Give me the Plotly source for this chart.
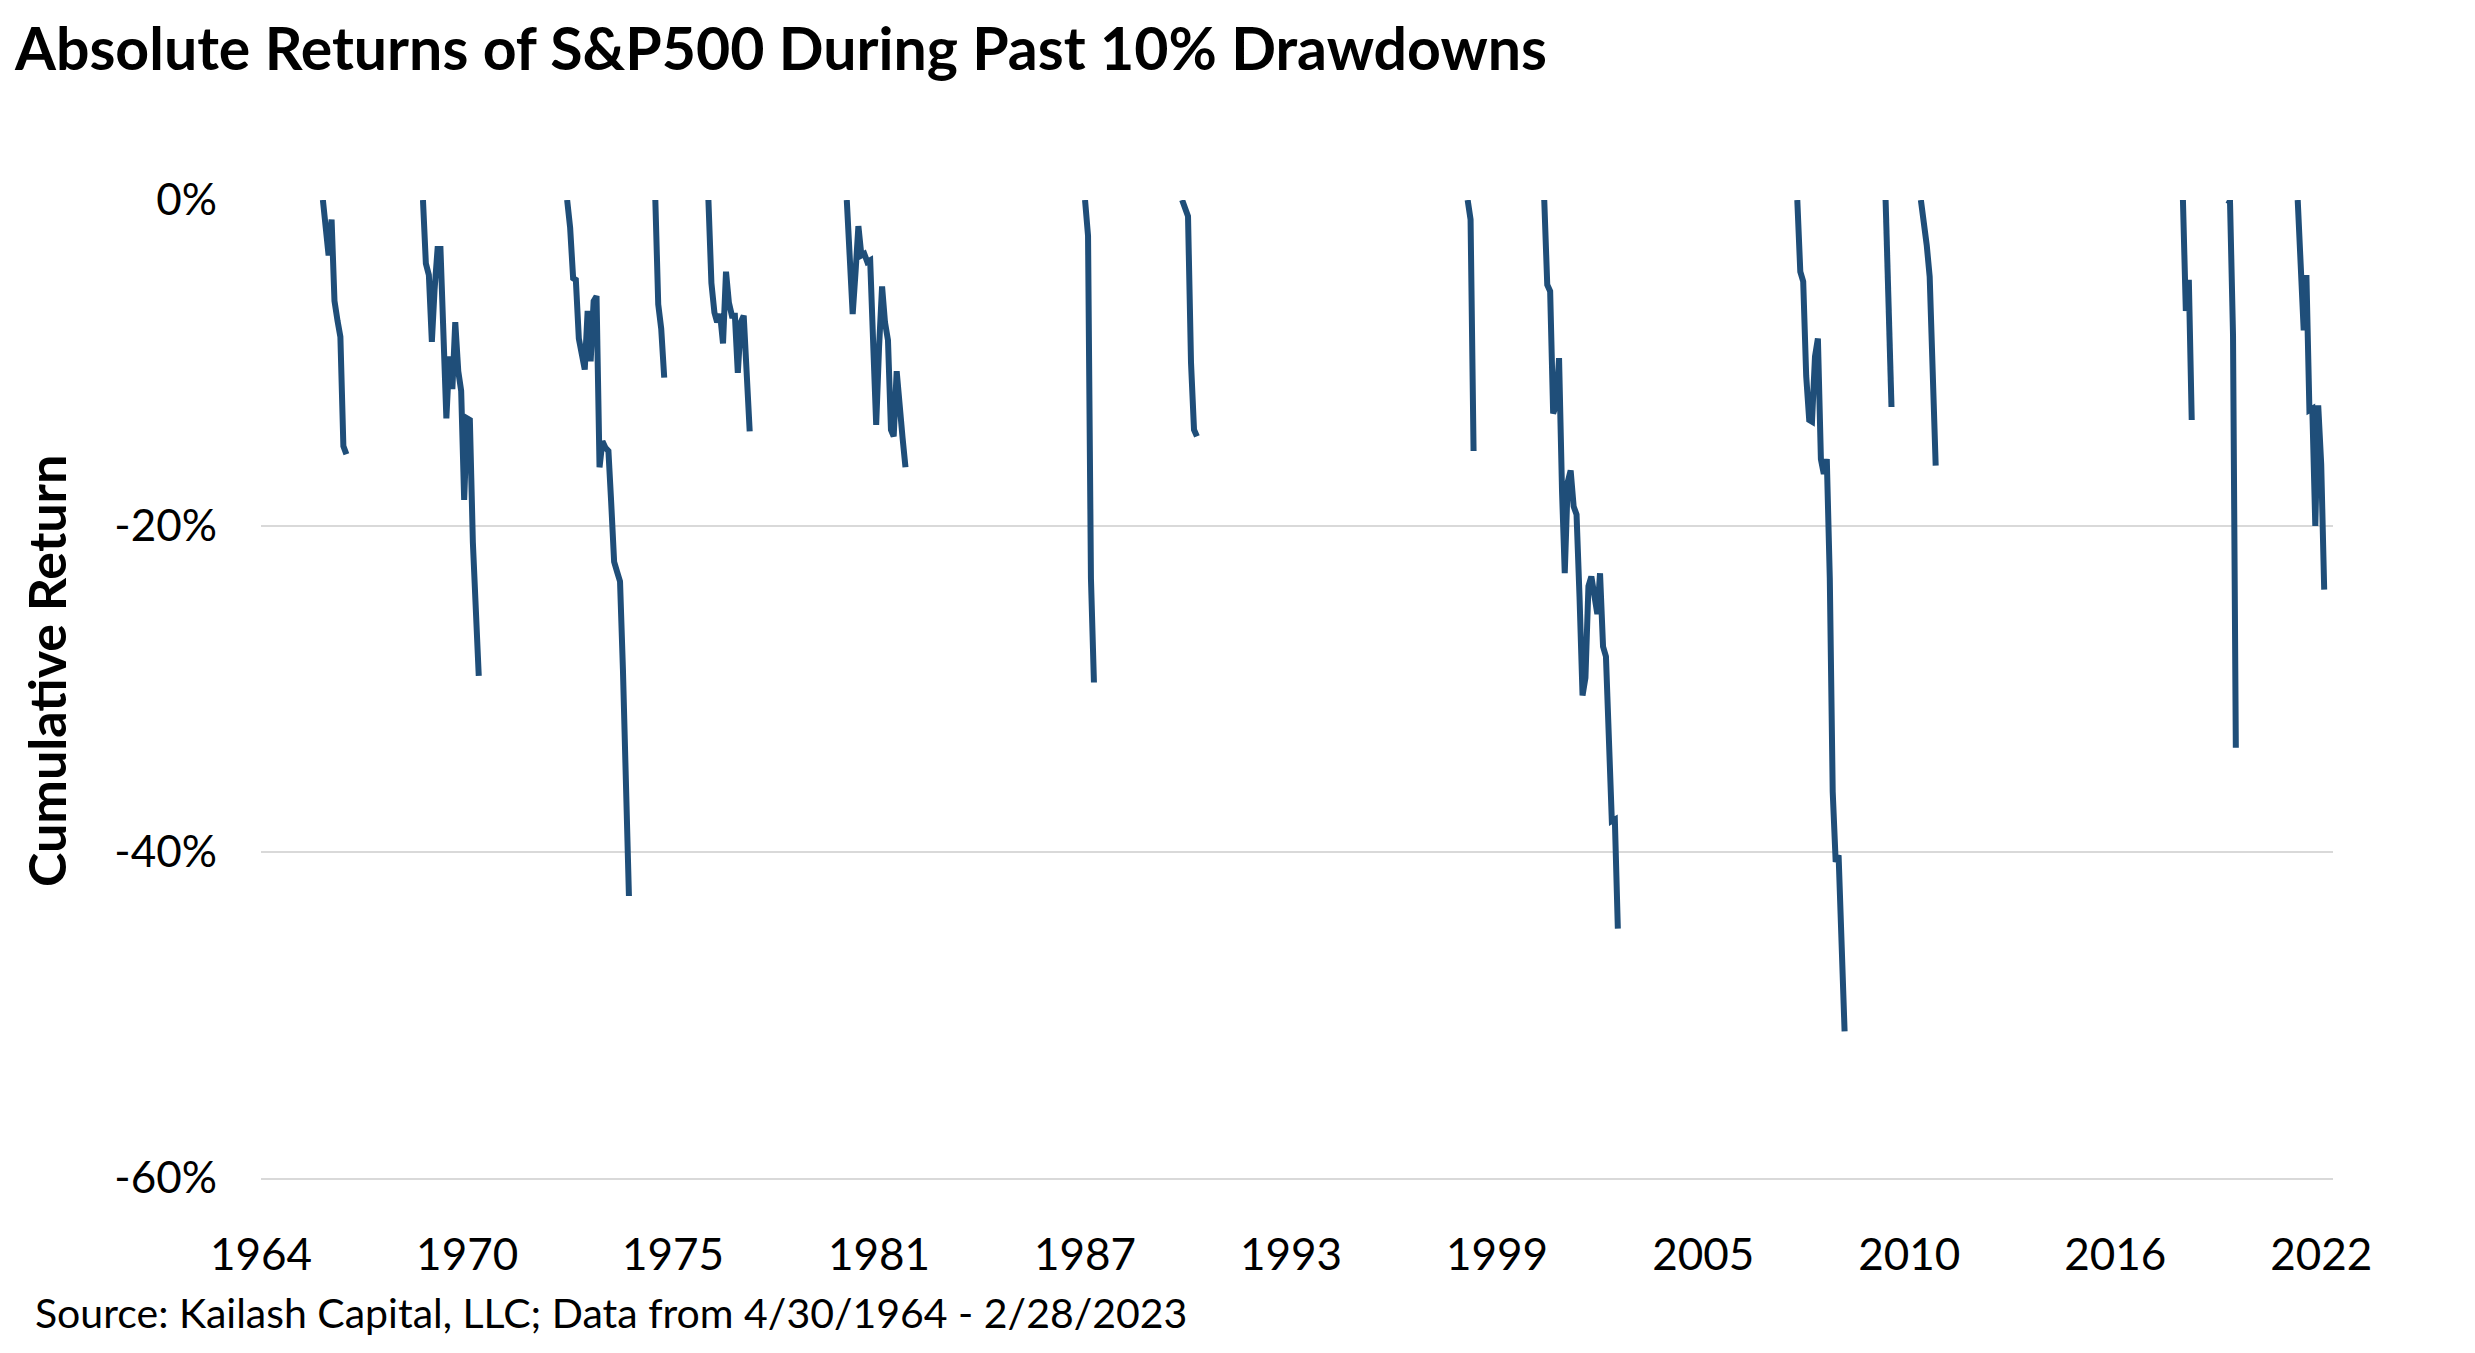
import pandas as pd
import plotly.graph_objects as go

# ---- Data: cumulative return (%) during each past 10% drawdown (monthly) ----
episode_starts = ["1966-01-01", "1968-11-01", "1972-12-01", "1975-06-01", "1976-12-01",
                  "1980-11-01", "1987-08-01", "1990-05-01", "1998-06-01", "2000-08-01",
                  "2007-10-01", "2010-04-01", "2011-04-01", "2018-09-01", "2019-12-01",
                  "2021-12-01"]

dd_1966 = [0, -1.5, -3.4, -1.2, -6.2, -7.4, -8.4, -15.1, -15.6]
dd_1968 = [0, -3.9, -4.6, -8.7, -5.5, -3.0, -3.0, -8.3, -13.4, -9.6, -11.6, -7.5, -10.5,
           -11.7, -18.4, -13.4, -13.5, -21.0, -25.5, -29.2]
dd_1972 = [0, -1.7, -4.8, -4.9, -8.5, -9.7, -10.4, -6.8, -9.9, -6.2, -5.9, -16.4, -14.8,
           -15.2, -15.4, -18.5, -22.2, -22.8, -23.4, -28.8, -35.5, -42.7]
dd_1975 = [0, -6.4, -7.9, -10.9]
dd_1976 = [0, -5.1, -6.9, -7.5, -7.0, -8.8, -4.4, -6.3, -7.1, -7.1, -10.6, -7.5, -7.1,
           -11.5, -14.2]
dd_1980 = [0, -3.0, -7.0, -4.3, -1.6, -3.4, -3.3, -3.8, -3.7, -8.8, -13.8, -9.0, -5.3,
           -7.5, -8.6, -14.1, -14.5, -10.5, -13.2, -14.6, -16.4]
dd_1987 = [0, -2.2, -23.2, -29.6]
dd_1990 = [0, -0.6, -1.0, -10.0, -14.1, -14.5]
dd_1998 = [0, -1.2, -15.4]
dd_2000 = [0, -5.2, -5.6, -13.1, -12.6, -9.7, -17.9, -22.9, -17.3, -16.6, -18.8, -19.3,
           -24.4, -30.4, -29.3, -23.7, -23.1, -24.2, -25.4, -22.9, -27.4, -28.0, -33.0,
           -38.1, -38.0, -44.7]
dd_2007 = [0, -4.4, -5.0, -10.8, -13.5, -13.6, -9.6, -8.5, -15.9, -16.8, -15.9, -23.2,
           -36.3, -40.6, -40.2, -45.1, -51.0]
dd_2010 = [0, -8.0, -12.7]
dd_2011 = [0, -1.2, -2.8, -4.7, -9.9, -16.3]
dd_2018 = [0, -6.8, -4.9, -13.5]
dd_2020 = [0, -0.1, -8.3, -33.6]
dd_2022 = [0, -5.2, -8.0, -4.6, -12.9, -12.8, -20.0, -12.6, -16.2, -23.9]

episodes = [dd_1966, dd_1968, dd_1972, dd_1975, dd_1976, dd_1980, dd_1987, dd_1990,
            dd_1998, dd_2000, dd_2007, dd_2010, dd_2011, dd_2018, dd_2020, dd_2022]

x_tick_dates = ["1964-04-01", "1970-02-01", "1975-12-01", "1981-10-01", "1987-08-01",
                "1993-06-01", "1999-04-01", "2005-02-01", "2010-12-01", "2016-10-01",
                "2022-08-01"]
x_tick_labels = ["1964", "1970", "1975", "1981", "1987", "1993", "1999", "2005", "2010",
                 "2016", "2022"]
y_tick_vals = [0, -20, -40, -60]
y_tick_labels = ["0%", "-20%", "-40%", "-60%"]

# ---- Build one gapped series ----
xs, ys = [], []
for start, vals in zip(episode_starts, episodes):
    dates = pd.date_range(start=start, periods=len(vals), freq="MS")
    xs.extend(list(dates))
    ys.extend(vals)
    xs.append(None)
    ys.append(None)

W, H = 2475, 1353
L, R, T, B = 253, 150, 192, 183
pw, ph = W - L - R, H - T - B

def px(xo):
    return (xo - L) / pw

def py(yo):
    return (H - B - yo) / ph

FONT = "Lato"
GRID = "#D9D9D9"
fig = go.Figure()
fig.add_trace(go.Scatter(
    x=xs, y=ys, mode="lines", connectgaps=False,
    line=dict(color="#1F4E79", width=6), hoverinfo="skip", showlegend=False,
))

fig.update_layout(
    width=W, height=H,
    margin=dict(l=L, r=R, t=T, b=B),
    paper_bgcolor="white", plot_bgcolor="white",
    font=dict(family=FONT, color="#000000", size=44),
    xaxis=dict(
        type="date", range=["1964-04-01", "2022-12-01"],
        tickvals=x_tick_dates, ticktext=x_tick_labels,
        showgrid=False, zeroline=False, ticks="",
        showline=True, linecolor=GRID, linewidth=2,
        tickfont=dict(family=FONT, size=44, color="#000000"),
        ticklabelstandoff=37,
    ),
    yaxis=dict(
        range=[-60, 0], tickvals=y_tick_vals, ticktext=y_tick_labels,
        showgrid=True, gridcolor=GRID, gridwidth=2,
        zeroline=False, showline=False, ticks="",
        tickfont=dict(family=FONT, size=44, color="#000000"),
        ticklabelstandoff=43,
    ),
    annotations=[
        dict(text="<b>Absolute Returns of S&P500 During Past 10% Drawdowns</b>",
             xref="paper", yref="paper", x=px(4), y=py(39),
             xanchor="left", yanchor="middle", showarrow=False,
             font=dict(family=FONT, size=59, color="#000000")),
        dict(text="<b>Cumulative Return</b>",
             xref="paper", yref="paper", x=px(38), y=py(663),
             xanchor="center", yanchor="middle", textangle=-90, showarrow=False,
             font=dict(family=FONT, size=52, color="#000000")),
        dict(text="Source: Kailash Capital, LLC; Data from 4/30/1964 - 2/28/2023",
             xref="paper", yref="paper", x=px(25), y=py(1304),
             xanchor="left", yanchor="middle", showarrow=False,
             font=dict(family=FONT, size=41, color="#000000")),
    ],
)

fig.write_html("out.html")
